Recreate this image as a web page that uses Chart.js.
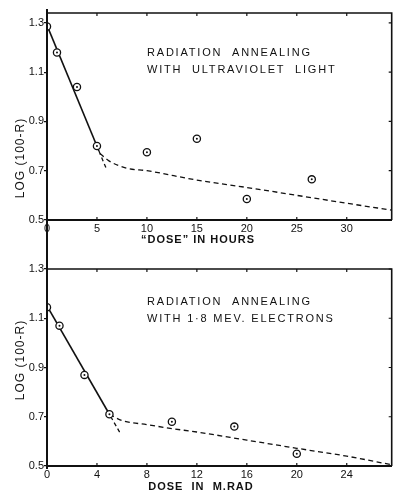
<!DOCTYPE html>
<html>
<head>
<meta charset="utf-8">
<script src="https://cdn.jsdelivr.net/npm/chart.js@4.4.1/dist/chart.umd.min.js"></script>
<style>
html, body { margin: 0; padding: 0; background: #fff; }
#wrap { position: relative; width: 397px; height: 493px; }
canvas { position: absolute; left: 0; }
#c1 { top: 0; }
#c2 { top: 250px; }
</style>
</head>
<body>
<div id="wrap">
<canvas id="c1" width="397" height="250" style="width:397px;height:250px"></canvas>
<canvas id="c2" width="397" height="243" style="width:397px;height:243px"></canvas>
</div>
<script>
// upper panel: ultraviolet light
var uvDose = [0, 1, 3, 5, 10, 15, 20, 26.5];
var uvLog = [1.285, 1.18, 1.04, 0.80, 0.775, 0.83, 0.585, 0.665];
var uvFitX = [0, 5.2];
var uvFitY = [1.29, 0.78];
var uvExtX = [5.2, 6];
var uvExtY = [0.78, 0.702];
var uvCurveX = [5.3, 6.2, 8, 10, 15, 20, 25, 30, 34.5];
var uvCurveY = [0.77, 0.74, 0.71, 0.70, 0.662, 0.632, 0.60, 0.568, 0.54];
var uvXTicks = [0, 5, 10, 15, 20, 25, 30];

// lower panel: 1.8 MeV electrons
var elDose = [0, 1, 3, 5, 10, 15, 20];
var elLog = [1.145, 1.07, 0.87, 0.71, 0.68, 0.66, 0.55];
var elFitX = [0, 5.1];
var elFitY = [1.15, 0.701];
var elExtX = [5.1, 5.9];
var elExtY = [0.701, 0.63];
var elCurveX = [5, 6, 8, 10, 12, 16, 20, 24, 27.6];
var elCurveY = [0.71, 0.685, 0.668, 0.652, 0.638, 0.605, 0.572, 0.54, 0.505];
var elXTicks = [0, 4, 8, 12, 16, 20, 24];

var yTicks = [0.5, 0.7, 0.9, 1.1, 1.3];

function pts(xs, ys) {
	return xs.map(function(x, i) { return {x: x, y: ys[i]}; });
}

var frame = {
	id: 'frame',
	afterDraw: function(chart) {
		var ctx = chart.ctx, a = chart.chartArea, o = chart.options.plugins.frame;
		var xs = chart.scales.x, ys = chart.scales.y;
		ctx.save();
		ctx.strokeStyle = '#111';
		ctx.lineWidth = 1.6;
		ctx.beginPath();
		ctx.moveTo(a.left, a.top);
		ctx.lineTo(a.right, a.top);
		ctx.lineTo(a.right, a.bottom);
		ctx.stroke();
		// left axis runs on past the corners
		ctx.lineWidth = 2;
		ctx.beginPath();
		ctx.moveTo(a.left, o.axisTop);
		ctx.lineTo(a.left, o.axisBottom);
		ctx.stroke();
		// small inward ticks
		ctx.lineWidth = 1.2;
		ctx.beginPath();
		xs.ticks.forEach(function(t) {
			var px = xs.getPixelForValue(t.value);
			if (px <= a.left + 1) return;
			ctx.moveTo(px, a.top); ctx.lineTo(px, a.top + 3);
			ctx.moveTo(px, a.bottom); ctx.lineTo(px, a.bottom - 3);
		});
		ys.ticks.forEach(function(t) {
			var py = ys.getPixelForValue(t.value);
			ctx.moveTo(a.right, py); ctx.lineTo(a.right - 3, py);
		});
		ctx.stroke();
		// texts
		ctx.fillStyle = '#111';
		ctx.textBaseline = 'middle';
		ctx.font = '11px "Liberation Sans"';
		ctx.letterSpacing = '1.8px';
		ctx.textAlign = 'left';
		ctx.fillText(o.note1, a.left + 100, a.top + o.noteY);
		ctx.fillText(o.note2, a.left + 100, a.top + o.noteY + 17);
		ctx.font = 'bold 11px "Liberation Sans"';
		ctx.letterSpacing = '1px';
		ctx.textAlign = 'center';
		ctx.fillText(o.xTitle, o.xTitleX, o.xTitleY);
		ctx.translate(21, o.yTitleY);
		ctx.rotate(-Math.PI / 2);
		ctx.font = '12px "Liberation Sans"';
		ctx.fillText(o.yTitle, 0, 0);
		ctx.restore();
	}
};

function makeChart(id, d) {
	return new Chart(id, {
		type: 'scatter',
		plugins: [frame],
		data: {
			datasets: [{
				data: pts(d.dx, d.dy),
				pointRadius: 1,
				pointBackgroundColor: '#111',
				pointBorderWidth: 0
			}, {
				data: pts(d.dx, d.dy),
				pointRadius: 3.6,
				pointBackgroundColor: '#fff',
				pointBorderColor: '#111',
				pointBorderWidth: 1.3
			}, {
				data: pts(d.fx, d.fy),
				showLine: true,
				borderColor: '#111',
				borderWidth: 1.6,
				pointRadius: 0
			}, {
				data: pts(d.ex, d.ey),
				showLine: true,
				borderColor: '#111',
				borderWidth: 1.3,
				borderDash: [4, 3],
				pointRadius: 0
			}, {
				data: pts(d.cx, d.cy),
				showLine: true,
				borderColor: '#111',
				borderWidth: 1.3,
				borderDash: [5, 3.5],
				cubicInterpolationMode: 'monotone',
				pointRadius: 0
			}]
		},
		options: {
			responsive: false,
			animation: false,
			events: [],
			layout: { padding: { left: 0, right: 2, top: d.padTop, bottom: 0 } },
			plugins: {
				legend: { display: false },
				tooltip: { enabled: false },
				frame: d.frame
			},
			scales: {
				x: {
					type: 'linear',
					min: 0,
					max: d.xMax,
					afterBuildTicks: function(s) { s.ticks = d.xTicks.map(function(v) { return {value: v}; }); },
					afterFit: function(s) { s.height = d.xHeight; },
					grid: { display: false, drawTicks: false },
					border: { display: true, color: '#111', width: 2 },
					ticks: { color: '#111', padding: 2, maxRotation: 0, font: { family: 'Liberation Sans', size: 11 } }
				},
				y: {
					type: 'linear',
					min: 0.5,
					max: d.yMax,
					afterBuildTicks: function(s) { s.ticks = yTicks.map(function(v) { return {value: v}; }); },
					afterFit: function(s) { s.width = 47; },
					grid: { drawOnChartArea: false, drawTicks: true, tickLength: 3, color: '#111', lineWidth: 1.2 },
					border: { display: true, color: '#111', width: 2 },
					ticks: {
						color: '#111', padding: 0,
						font: { family: 'Liberation Sans', size: 11 },
						callback: function(v) { return v.toFixed(1); }
					}
				}
			}
		}
	});
}

makeChart('c1', {
	dx: uvDose, dy: uvLog, fx: uvFitX, fy: uvFitY, ex: uvExtX, ey: uvExtY, cx: uvCurveX, cy: uvCurveY,
	xTicks: uvXTicks, xMax: 34.5, yMax: 1.34, padTop: 13, xHeight: 30,
	frame: {
		note1: 'RADIATION  ANNEALING', note2: 'WITH  ULTRAVIOLET  LIGHT', noteY: 40,
		xTitle: '\u201CDOSE\u201D IN HOURS', xTitleX: 198, xTitleY: 240,
		yTitle: 'LOG (100-R)', yTitleY: 158, axisTop: 9, axisBottom: 250
	}
});

makeChart('c2', {
	dx: elDose, dy: elLog, fx: elFitX, fy: elFitY, ex: elExtX, ey: elExtY, cx: elCurveX, cy: elCurveY,
	xTicks: elXTicks, xMax: 27.6, yMax: 1.3, padTop: 19, xHeight: 27,
	frame: {
		note1: 'RADIATION  ANNEALING', note2: 'WITH 1\u00B78 MEV. ELECTRONS', noteY: 33,
		xTitle: 'DOSE  IN  M.RAD', xTitleX: 201, xTitleY: 237,
		yTitle: 'LOG (100-R)', yTitleY: 110, axisTop: 0, axisBottom: 219
	}
});
</script>
</body>
</html>
